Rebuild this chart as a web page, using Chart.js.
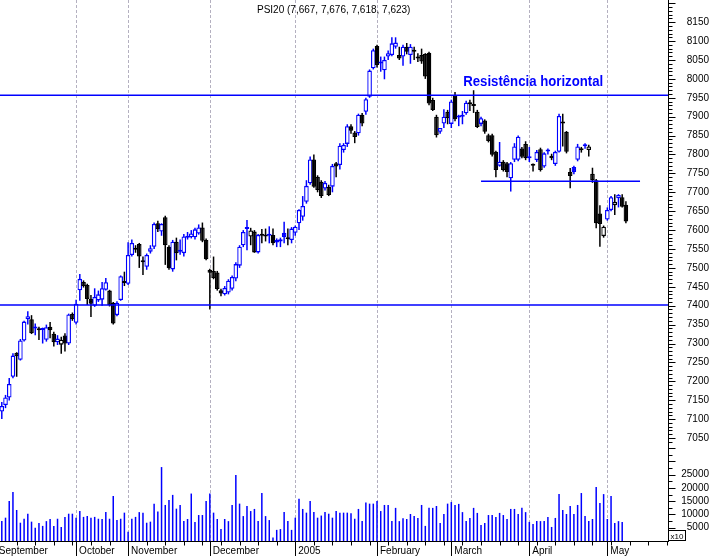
<!DOCTYPE html>
<html>
<head>
<meta charset="utf-8">
<title>PSI20</title>
<script src="https://cdn.jsdelivr.net/npm/chart.js@4/dist/chart.umd.min.js"></script>
<style>
  html, body { margin: 0; padding: 0; background: #fff; }
  #chart { display: block; }
</style>
</head>
<body>
<canvas id="chart" width="709" height="556"></canvas>
<script>
// daily PSI20 candles, Sept 2004 -> May 2005 (index = trading day)
const opens = [
  7120, 7137, 7157, 7212, 7275, 7257, 7308, 7364, 7364, 7340,
  7337, 7336, 7310, 7344, 7326, 7303, 7297, 7321, 7300, 7378,
  7355, 7441, 7463, 7455, 7418, 7400, 7414, 7416, 7442, 7440,
  7408, 7375, 7415, 7462, 7458, 7534, 7550, 7563, 7518, 7503,
  7543, 7556, 7618, 7596, 7634, 7556, 7496, 7569, 7543, 7539,
  7580, 7581, 7581, 7591, 7607, 7574, 7495, 7492, 7488, 7441,
  7430, 7435, 7445, 7472, 7506, 7560, 7603, 7583, 7596, 7541,
  7587, 7588, 7585, 7587, 7567, 7570, 7593, 7578, 7574, 7593,
  7618, 7635, 7675, 7724, 7787, 7741, 7728, 7710, 7715, 7715,
  7777, 7772, 7812, 7828, 7875, 7858, 7856, 7905, 7913, 7953,
  8028, 8087, 8041, 8023, 8059, 8063, 8085, 8063, 8059, 8085,
  8063, 8074, 8056, 8063, 8066, 8069, 7944, 7900, 7860, 7882,
  7913, 7881, 7956, 7898, 7900, 7909, 7937, 7930, 7913, 7881,
  7890, 7851, 7851, 7807, 7770, 7781, 7777, 7737, 7786, 7786,
  7816, 7828, 7792, 7771, 7785, 7814, 7768, 7808, 7790, 7775,
  7807, 7884, 7860, 7754, 7767, 7786, 7813, 7822, 7812, 7749,
  7732, 7644, 7584, 7628, 7653, 7666, 7684, 7687, 7667
];
const highs = [
  7145, 7164, 7209, 7274, 7277, 7312, 7360, 7385, 7375, 7353,
  7344, 7342, 7350, 7357, 7331, 7322, 7318, 7327, 7379, 7382,
  7416, 7484, 7467, 7458, 7428, 7446, 7440, 7463, 7473, 7442,
  7410, 7412, 7480, 7490, 7568, 7575, 7560, 7566, 7530, 7538,
  7560, 7620, 7625, 7618, 7638, 7560, 7574, 7580, 7575, 7590,
  7595, 7600, 7606, 7615, 7620, 7578, 7498, 7530, 7492, 7445,
  7452, 7470, 7480, 7515, 7560, 7600, 7627, 7606, 7600, 7590,
  7603, 7604, 7610, 7604, 7578, 7580, 7622, 7604, 7608, 7612,
  7655, 7690, 7732, 7795, 7800, 7745, 7732, 7730, 7720, 7775,
  7780, 7830, 7830, 7880, 7880, 7862, 7908, 7910, 7950, 8025,
  8080, 8090, 8059, 8059, 8075, 8110, 8110, 8085, 8090, 8095,
  8092, 8085, 8068, 8080, 8068, 8072, 7950, 7905, 7870, 7920,
  7918, 7945, 7965, 7905, 7915, 7942, 7945, 7970, 7918, 7900,
  7893, 7855, 7855, 7810, 7833, 7785, 7780, 7780, 7830, 7850,
  7820, 7835, 7820, 7776, 7812, 7818, 7806, 7816, 7802, 7810,
  7908, 7908, 7862, 7764, 7770, 7828, 7820, 7830, 7826, 7765,
  7735, 7666, 7612, 7660, 7690, 7695, 7695, 7695, 7676
];
const lows = [
  7100, 7129, 7149, 7208, 7212, 7255, 7305, 7350, 7325, 7322,
  7309, 7300, 7305, 7314, 7292, 7296, 7273, 7279, 7296, 7360,
  7350, 7413, 7448, 7402, 7370, 7397, 7410, 7400, 7440, 7398,
  7350, 7372, 7413, 7452, 7455, 7530, 7540, 7500, 7481, 7495,
  7538, 7550, 7595, 7585, 7508, 7495, 7490, 7520, 7535, 7530,
  7575, 7578, 7575, 7588, 7568, 7520, 7390, 7470, 7440, 7425,
  7427, 7430, 7440, 7465, 7500, 7555, 7547, 7560, 7540, 7538,
  7565, 7570, 7565, 7560, 7555, 7555, 7565, 7560, 7565, 7585,
  7600, 7625, 7670, 7720, 7712, 7700, 7685, 7705, 7690, 7700,
  7740, 7760, 7805, 7820, 7855, 7830, 7850, 7875, 7905, 7950,
  8025, 8030, 8019, 7999, 8050, 8060, 8080, 8050, 8035, 8065,
  8040, 8050, 8045, 8040, 8000, 7930, 7915, 7845, 7855, 7870,
  7880, 7870, 7888, 7875, 7880, 7905, 7915, 7910, 7870, 7875,
  7855, 7832, 7795, 7740, 7768, 7755, 7740, 7702, 7780, 7782,
  7790, 7785, 7780, 7755, 7780, 7755, 7765, 7800, 7785, 7770,
  7805, 7821, 7803, 7711, 7748, 7782, 7805, 7815, 7795, 7725,
  7605, 7556, 7580, 7625, 7650, 7640, 7660, 7660, 7618
];
const closes = [
  7135, 7157, 7193, 7268, 7266, 7308, 7358, 7372, 7327, 7343,
  7335, 7338, 7343, 7335, 7303, 7313, 7310, 7300, 7377, 7364,
  7405, 7471, 7452, 7418, 7405, 7423, 7430, 7446, 7462, 7402,
  7353, 7408, 7478, 7460, 7534, 7566, 7548, 7530, 7515, 7534,
  7552, 7616, 7602, 7616, 7560, 7499, 7569, 7539, 7546, 7583,
  7584, 7591, 7602, 7607, 7572, 7523, 7487, 7473, 7444, 7432,
  7447, 7466, 7476, 7510, 7556, 7595, 7606, 7599, 7541, 7587,
  7585, 7583, 7587, 7565, 7574, 7576, 7582, 7576, 7604, 7609,
  7653, 7664, 7717, 7787, 7715, 7706, 7690, 7725, 7693, 7770,
  7768, 7823, 7825, 7875, 7863, 7846, 7905, 7882, 7946, 8022,
  8076, 8037, 8045, 8050, 8068, 8094, 8096, 8054, 8085, 8072,
  8085, 8072, 8054, 8046, 8006, 7935, 7918, 7851, 7870, 7900,
  7896, 7940, 7893, 7902, 7904, 7937, 7933, 7928, 7873, 7896,
  7860, 7836, 7799, 7759, 7781, 7759, 7754, 7777, 7821, 7847,
  7794, 7790, 7790, 7770, 7807, 7759, 7803, 7811, 7797, 7807,
  7902, 7882, 7807, 7743, 7754, 7821, 7811, 7824, 7821, 7732,
  7618, 7616, 7609, 7653, 7687, 7675, 7693, 7662, 7623
];
// volume (x10), last session has none yet
const volumes = [
  7500, 8800, 15100, 18500, 11700, 6900, 8400, 10300, 7300, 5000,
  6800, 5700, 7500, 8300, 5700, 8400, 5300, 9100, 10300, 10300,
  8800, 11300, 9100, 9400, 8800, 9100, 8400, 8300, 10900, 8400,
  17000, 7900, 8400, 10700, 3500, 8400, 9100, 10900, 10700, 6900,
  7300, 14100, 11100, 27900, 13600, 15500, 17400, 12200, 13600, 7500,
  8300, 17900, 7200, 9800, 9800, 15100, 17900, 10700, 8300, 4500,
  8300, 7500, 13600, 24900, 14100, 9400, 13200, 11300, 12100, 7500,
  18100, 9400, 7900, 1300, 4200, 4500, 10900, 7500, 4200, 8800,
  15900, 12100, 10700, 15100, 10900, 8800, 9600, 10900, 10300, 8800,
  11300, 10700, 10700, 10700, 10500, 8400, 12100, 7500, 14500, 14100,
  14100, 15100, 11300, 13600, 13600, 7500, 12500, 7500, 8600, 8300,
  10200, 9400, 8700, 13600, 5700, 12500, 12500, 13200, 6800, 10200,
  14100, 14700, 13600, 14000, 10900, 7500, 8700, 12500, 10600, 6000,
  6800, 9800, 9800, 9100, 10600, 9800, 8300, 12100, 12100, 10200,
  12500, 10900, 7200, 6400, 7500, 7500, 7500, 9100, 5300, 8700,
  17700, 11700, 10200, 13200, 10200, 13600, 18100, 9400, 7500, 8300,
  20400, 14300, 17700, 8300, 17000, 6800, 7500, 7200
];

const monthNames = ['September', 'October', 'November', 'December', '2005', 'February', 'March', 'April', 'May'];
const monthStarts = [-1.6, 20, 34, 56, 79, 101, 121, 142, 163];
const priceTicks = [7050, 7100, 7150, 7200, 7250, 7300, 7350, 7400, 7450, 7500, 7550, 7600,
  7650, 7700, 7750, 7800, 7850, 7900, 7950, 8000, 8050, 8100, 8150];
const volumeTicks = [5000, 10000, 15000, 20000, 25000];

const resistanceLevel = 7957;
const supportLevel = 7402;
const shortLevel = 7729;
const shortFrom = 129, shortTo = 171.8;
const titleText = 'PSI20 (7,667, 7,676, 7,618, 7,623)';
const noteText = 'Resistência horizontal';

const BLUE = '#0000ff';
const FONT = "'Liberation Sans', Arial, sans-serif";

const idx = closes.map((_, i) => i);
const candleColor = closes.map((c, i) => c >= (i ? closes[i - 1] : opens[i]) ? BLUE : '#000000');
const bodyFill = closes.map((c, i) => c < opens[i] ? candleColor[i] : '#ffffff');

function line(ctx, x1, y1, x2, y2) {
    ctx.beginPath();
    ctx.moveTo(x1, y1);
    ctx.lineTo(x2, y2);
    ctx.stroke();
}

const decor = {
    id: 'decor',
    beforeDatasetsDraw(chart) {
        const { ctx, chartArea: a, scales: { x } } = chart;
        ctx.save();
        ctx.strokeStyle = '#b4b0c0';
        ctx.lineWidth = 1;
        ctx.setLineDash([3, 2]);
        monthStarts.forEach(m => {
            const px = Math.round(x.getPixelForValue(m)) + 0.5;
            if (px < a.left) return;
            line(ctx, px, a.top, px, a.bottom);
        });
        ctx.restore();
    },
    afterDatasetsDraw(chart) {
        const { ctx, chartArea: a, scales: { x, y } } = chart;
        ctx.save();
        ctx.strokeStyle = BLUE;
        ctx.lineWidth = 1.5;
        [resistanceLevel, supportLevel].forEach(v => {
            const py = y.getPixelForValue(v);
            line(ctx, a.left, py, a.right, py);
        });
        const sy = y.getPixelForValue(shortLevel);
        line(ctx, x.getPixelForValue(shortFrom), sy, x.getPixelForValue(shortTo), sy);

        ctx.fillStyle = BLUE;
        ctx.font = 'bold 14px ' + FONT;
        ctx.textBaseline = 'alphabetic';
        ctx.fillText(noteText, x.getPixelForValue(124.2), y.getPixelForValue(7980), 140);
        ctx.restore();
    },
    afterDraw(chart) {
        const { ctx, scales: { x, y, yv } } = chart;
        ctx.save();
        ctx.strokeStyle = '#000';
        ctx.lineWidth = 1;
        const ax = Math.round(y.left) + 0.5;
        // price axis ticks, minor every 10
        for (let v = 7040; v <= 8200; v += 10) {
            const py = Math.round(y.getPixelForValue(v)) + 0.5;
            if (py < y.top || py > y.bottom) continue;
            line(ctx, ax, py, ax + (v % 50 === 0 ? 7 : 4), py);
        }
        // volume axis ticks
        for (let v = 2500; v <= 35000; v += 2500) {
            const py = Math.round(yv.getPixelForValue(v)) + 0.5;
            if (py < yv.top) continue;
            line(ctx, ax, py, ax + (v % 5000 === 0 ? 7 : 4), py);
        }
        // time axis: weekly and month ticks
        const by = Math.round(x.top) + 0.5;
        for (let i = 4; i < 180; i += 5) {
            const px = Math.round(x.getPixelForValue(i)) + 0.5;
            line(ctx, px, by, px, by + 4);
        }
        monthStarts.forEach(m => {
            const px = Math.round(x.getPixelForValue(m)) + 0.5;
            if (px < 0) return;
            line(ctx, px, by, px, chart.height);
        });
        // x10 box
        ctx.fillStyle = '#fff';
        ctx.fillRect(ax, yv.bottom - 10, 17, 10);
        ctx.strokeRect(ax, yv.bottom - 10.5, 17, 10);
        ctx.fillStyle = '#000';
        ctx.font = '8px ' + FONT;
        ctx.textBaseline = 'alphabetic';
        ctx.fillText('x10', ax + 2, yv.bottom - 2.5);
        // title
        ctx.font = '10px ' + FONT;
        ctx.fillText(titleText, 257, 12.5);
        ctx.restore();
    }
};

const axisFont = { family: FONT, size: 10 };

new Chart(document.getElementById('chart'), {
    type: 'bar',
    data: {
        datasets: [
            {
                label: 'body',
                data: idx.map(i => ({ x: i, y: [opens[i], closes[i]] })),
                yAxisID: 'y',
                backgroundColor: bodyFill,
                borderColor: candleColor,
                borderWidth: 1.3,
                borderSkipped: false,
                barThickness: 4.6,
                minBarLength: 2,
                inflateAmount: 0,
                grouped: false,
                order: 0
            },
            {
                label: 'wick',
                data: idx.map(i => ({ x: i, y: [lows[i], highs[i]] })),
                yAxisID: 'y',
                backgroundColor: candleColor,
                borderWidth: 0,
                barThickness: 1.5,
                inflateAmount: 0,
                grouped: false,
                order: 1
            },
            {
                label: 'volume',
                data: volumes.map((v, i) => ({ x: i, y: v })),
                yAxisID: 'yv',
                backgroundColor: BLUE,
                borderWidth: 0,
                barThickness: 1.5,
                inflateAmount: 0,
                grouped: false,
                order: 2
            }
        ]
    },
    options: {
        responsive: false,
        animation: false,
        devicePixelRatio: 1,
        layout: { padding: 0 },
        plugins: { legend: { display: false }, tooltip: { enabled: false } },
        scales: {
            x: {
                type: 'linear',
                min: -0.485,
                max: 179.33,
                offset: false,
                grid: { display: false, drawTicks: false },
                border: { display: true, color: '#000' },
                ticks: {
                    autoSkip: false, maxRotation: 0, minRotation: 0,
                    align: 'start', labelOffset: 3, padding: 4,
                    color: '#000', font: axisFont,
                    callback: (v, i) => monthNames[i]
                },
                afterBuildTicks: s => { s.ticks = monthStarts.map(v => ({ value: v })); },
                afterFit: s => { s.height = 15; s.paddingLeft = 0; s.paddingRight = 0; }
            },
            y: {
                type: 'linear',
                position: 'right',
                stack: 'panels',
                stackWeight: 445,
                min: 7031.5,
                max: 8208.7,
                grid: { display: false, drawTicks: false },
                border: { display: true, color: '#000' },
                ticks: { autoSkip: false, crossAlign: 'far', padding: 16, color: '#000', font: axisFont, callback: v => String(v) },
                afterBuildTicks: s => { s.ticks = priceTicks.map(v => ({ value: v })); },
                afterFit: s => { s.width = 41; s.paddingTop = 0; s.paddingBottom = 0; }
            },
            yv: {
                type: 'linear',
                position: 'right',
                stack: 'panels',
                stackWeight: 96,
                min: 0,
                max: 36226,
                grid: { display: false, drawTicks: false },
                border: { display: true, color: '#000' },
                ticks: { autoSkip: false, crossAlign: 'far', padding: 10, color: '#000', font: axisFont, callback: v => String(v) },
                afterBuildTicks: s => { s.ticks = volumeTicks.map(v => ({ value: v })); },
                afterFit: s => { s.width = 41; s.paddingTop = 0; s.paddingBottom = 0; }
            }
        }
    },
    plugins: [decor]
});
</script>
</body>
</html>
